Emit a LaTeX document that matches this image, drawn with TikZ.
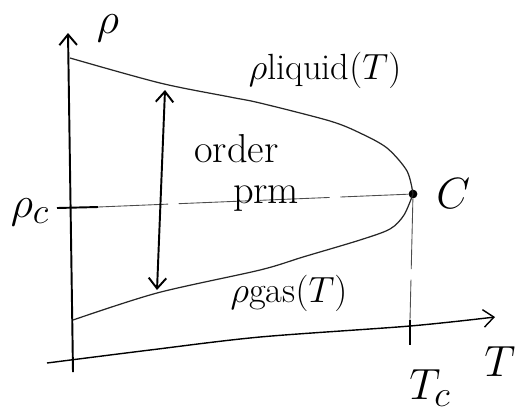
\documentclass[tikz,border=0pt]{standalone}
\usepackage{amsmath}
\usetikzlibrary{positioning,arrows.meta}

\begin{document}
\begin{tikzpicture}[x=0.02cm,y=-0.02cm,>={Straight Barb[length=6pt,width=10pt]},
	axis/.style={line width=1.1pt},
	curve/.style={line width=0.7pt,black!85},
	guide/.style={line width=0.5pt,black!70,dash pattern=on 40pt off 6pt}]
	\useasboundingbox (0,0) rectangle (519,413);
	
	% Axes
	\coordinate (ybot) at (73,372);
	\coordinate (ytop) at (68,33);
	\draw[axis,->] (ybot)--(ytop);
	\node[font=\Huge] (rholab) at (108,28) {$\rho$};
	
	\draw[line width=0.8pt,->]
	plot[smooth]
	coordinates{
		(47,363)
		(150,350)
		(260,337)
		(410,326)
		(495,317)
	};
	\node[font=\Huge] (Tlab) at (500,362) {$T$};
	
	% Critical point
	\node[circle,fill,inner sep=0pt,minimum size=5pt] (C) at (413,194) {};
	\node[font=\Huge,right=7pt of C] (Clab) {$C$};
	
	% Liquid branch
	\draw[curve]
	plot[smooth]
	coordinates{
		(70,58)
		(160,83)
		(230,97)
		(260,103)
		(330,121)
		(360,133)
		(387,148)
		(407,171)
		(C.center)
	};
	\node[font=\huge] (liquid) at (325,70) {$\rho$liquid$(T)$};
	
	% Gas branch
	\draw[curve]
	plot[smooth]
	coordinates{
		(73,320)
		(157,293)
		(260,270)
		(303,257)
		(360,240)
		(390,229)
		(404,215)
		(C.center)
	};
	\node[font=\huge] (gas) at (289,293) {$\rho$gas$(T)$};
	
	% rho_c and T_c
	\coordinate (rctick) at (57,208);
	\coordinate (rcend) at (98,207);
	\draw[axis] (rctick)--(rcend);
	\draw[guide] (rcend)--(C);
	\node[font=\Huge] (rhoc) at (30,212) {$\rho_c$};
	
	\coordinate (tcaxis) at (410,320);
	\coordinate (tcend) at (410,345);
	\draw[guide] (C)--(tcaxis);
	\draw[axis] (tcaxis)--(tcend);
	\node[font=\Huge] (Tc) at (430,388) {$T_c$};
	
	% Order parameter
	\coordinate (optop) at (165,90);
	\coordinate (opbot) at (157,290);
	\draw[axis,<->] (opbot)--(optop);
	\node[font={\fontsize{23}{23.5}\selectfont},align=left,anchor=north west,inner sep=0pt]
	(orderprm) at (194,134) {order\\\hspace*{22pt}prm};
	
\end{tikzpicture}
\end{document}
